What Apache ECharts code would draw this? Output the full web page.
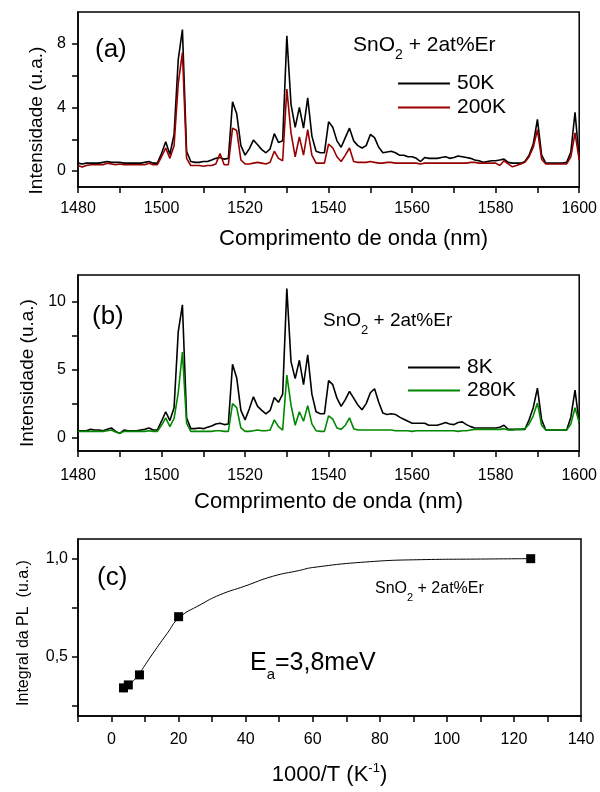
<!DOCTYPE html>
<html><head><meta charset="utf-8">
<script src="https://cdn.jsdelivr.net/npm/echarts@6/dist/echarts.min.js"></script>
<style>html,body{margin:0;padding:0;background:#fff}#c{width:600px;height:792px}</style>
</head><body><div id="c"></div>
<script>
const FONT = '"Liberation Sans", Arial, sans-serif';

const wavelength = [1480,1481,1482,1483,1484,1485,1486,1487,1488,1489,1490,1491,1492,1493,1494,1495,1496,1497,1498,1499,
1500,1501,1502,1503,1504,1505,1506,1507,1508,1509,1510,1511,1512,1513,1514,1515,1516,1517,1518,1519,
1520,1521,1522,1523,1524,1525,1526,1527,1528,1529,1530,1531,1532,1533,1534,1535,1536,1537,1538,1539,
1540,1541,1542,1543,1544,1545,1546,1547,1548,1549,1550,1551,1552,1553,1554,1555,1556,1557,1558,1559,
1560,1561,1562,1563,1564,1565,1566,1567,1568,1569,1570,1571,1572,1573,1574,1575,1576,1577,1578,1579,
1580,1581,1582,1583,1584,1585,1586,1587,1588,1589,1590,1591,1592,1593,1594,1595,1596,1597,1598,1599,1600];

const intensity50K = [0.5,0.45,0.5,0.5,0.5,0.5,0.55,0.6,0.55,0.55,
0.55,0.5,0.5,0.5,0.5,0.5,0.55,0.6,0.5,0.5,
1.1,1.85,1.05,2.3,7.0,8.9,1.25,0.6,0.55,0.55,
0.6,0.6,0.7,0.8,0.85,0.75,0.8,4.35,3.6,1.6,
1.0,1.4,1.95,1.65,1.35,1.15,1.4,2.35,1.8,1.9,
8.5,4.2,2.75,4.0,2.7,4.6,2.2,1.25,1.15,1.15,
3.1,2.75,1.9,1.5,2.1,2.7,1.9,1.6,1.45,1.6,
2.3,2.1,1.5,1.15,1.2,1.25,1.15,1.0,1.0,0.9,
0.9,0.8,0.6,0.85,0.8,0.8,0.8,0.85,0.9,0.8,
0.85,0.95,0.9,0.85,0.8,0.7,0.65,0.55,0.6,0.65,
0.65,0.7,0.75,0.55,0.5,0.5,0.5,0.6,1.0,1.7,
3.25,1.0,0.5,0.5,0.5,0.5,0.5,0.55,1.2,3.7,0.75];

const intensity200K = [0.35,0.25,0.35,0.4,0.4,0.4,0.4,0.5,0.45,0.4,
0.45,0.4,0.4,0.4,0.4,0.4,0.4,0.5,0.4,0.4,
0.9,1.45,0.8,1.6,5.5,7.45,0.8,0.35,0.35,0.35,
0.3,0.35,0.35,0.45,1.1,0.4,0.4,2.7,2.55,0.7,
0.45,0.45,0.5,0.55,0.5,0.45,0.55,1.25,0.8,0.65,
5.15,2.4,0.9,2.15,1.0,2.6,1.0,0.5,0.5,0.5,
1.7,1.45,0.9,0.6,1.0,1.45,0.6,0.55,0.55,0.55,
0.6,0.55,0.5,0.5,0.55,0.55,0.5,0.5,0.5,0.5,
0.5,0.5,0.45,0.5,0.5,0.5,0.5,0.5,0.5,0.5,
0.5,0.5,0.5,0.5,0.55,0.55,0.5,0.5,0.5,0.5,
0.5,0.35,0.65,0.45,0.27,0.35,0.45,0.55,0.9,1.5,
2.6,0.75,0.45,0.45,0.45,0.45,0.45,0.45,0.9,2.4,0.7];

const intensity8K = [0.5,0.5,0.5,0.6,0.55,0.55,0.5,0.6,0.7,0.45,
0.3,0.55,0.5,0.5,0.5,0.55,0.6,0.7,0.55,0.55,
1.2,1.9,1.25,2.2,7.8,9.8,1.45,0.65,0.65,0.7,
0.65,0.75,0.85,1.0,1.05,0.95,1.0,5.4,4.4,2.0,
1.3,2.1,3.0,2.3,2.0,1.75,2.0,2.95,2.6,3.2,
11.0,5.6,4.35,5.7,3.9,6.1,3.2,1.9,1.75,1.75,
4.2,3.9,2.9,2.3,2.8,3.4,2.9,2.4,2.05,2.5,
3.3,3.6,2.6,1.8,1.7,1.75,1.7,1.5,1.35,1.2,
1.05,1.05,1.05,1.05,0.9,0.9,0.9,1.0,1.1,1.0,
0.95,1.1,1.15,0.95,0.8,0.7,0.7,0.7,0.7,0.7,
0.7,0.75,0.9,0.6,0.6,0.6,0.6,0.6,1.3,2.2,
3.65,1.3,0.55,0.55,0.55,0.55,0.55,0.55,1.5,3.5,1.05];

const intensity280K = [0.45,0.45,0.45,0.45,0.45,0.45,0.45,0.5,0.55,0.4,
0.3,0.45,0.45,0.45,0.45,0.45,0.45,0.5,0.45,0.45,
0.9,1.45,0.8,1.4,3.3,6.3,1.05,0.45,0.45,0.45,
0.45,0.45,0.45,0.5,0.5,0.45,0.45,2.5,2.2,0.7,
0.45,0.45,0.5,0.55,0.5,0.5,0.55,1.3,0.8,0.55,
4.6,2.4,0.9,1.9,1.2,2.35,1.0,0.5,0.45,0.45,
1.6,1.35,0.7,0.6,0.9,1.45,0.65,0.55,0.55,0.55,
0.55,0.55,0.55,0.55,0.55,0.55,0.5,0.5,0.5,0.5,
0.45,0.5,0.5,0.5,0.5,0.5,0.5,0.5,0.5,0.5,
0.5,0.45,0.5,0.5,0.55,0.6,0.6,0.6,0.6,0.6,
0.6,0.6,0.65,0.55,0.55,0.6,0.6,0.65,1.0,1.6,
2.55,0.9,0.55,0.55,0.55,0.55,0.55,0.55,1.0,2.2,1.1];

// panel (c)
const invT = [3.57, 5.0, 8.33, 20.0, 125.0];
const plIntegral = [0.343, 0.358, 0.409, 0.705, 1.0];
const fitX = [3.7, 5, 8, 11.6, 16.6, 20.2, 26.4, 32.3, 39.7, 48, 56, 60, 75.7, 92.5, 110, 125];
const fitY = [0.32, 0.35, 0.41, 0.50, 0.62, 0.70, 0.765, 0.816, 0.86, 0.91, 0.94, 0.955, 0.983, 0.995, 0.998, 1.0];

// ticks
const specXTicks = [1480,1490,1500,1510,1520,1530,1540,1550,1560,1570,1580,1590,1600];
const specXLabels = [1480,1500,1520,1540,1560,1580,1600];
const aYTicks = [0,2,4,6,8];
const aYLabels = [0,4,8];
const bYTicks = [0,2.5,5,7.5,10];
const bYLabels = [0,5,10];
const cXTicks = [-10,0,10,20,30,40,50,60,70,80,90,100,110,120,130,140];
const cXLabels = [0,20,40,60,80,100,120,140];
const cYTicks = [0.25,0.5,0.75,1.0];
const cYLabels = [0.5,1.0];

const zip = (xs, ys) => xs.map((x, i) => [x, ys[i]]);
const plain = v => String(v);

function xAxisCfg(gi, min, max, ticks, labels, name, nameGap, nameStyle, margin) {
  return {
    type: 'value', gridIndex: gi, min, max,
    axisLine: { show: true, onZero: false, lineStyle: { color: '#000', width: 1.5 } },
    axisTick: { show: true, length: 6, customValues: ticks, lineStyle: { color: '#000', width: 1.5 } },
    axisLabel: { customValues: labels, color: '#000', fontSize: 16, fontFamily: FONT, margin, formatter: plain },
    splitLine: { show: false },
    name, nameLocation: 'middle', nameGap,
    nameTextStyle: Object.assign({ color: '#000', fontSize: 22, fontFamily: FONT }, nameStyle || {})
  };
}
function yAxisCfg(gi, min, max, ticks, labels, name, nameGap, nameStyle, margin, fmt) {
  return {
    type: 'value', gridIndex: gi, min, max,
    axisLine: { show: true, onZero: false, lineStyle: { color: '#000', width: 1.5 } },
    axisTick: { show: true, length: 6, customValues: ticks, lineStyle: { color: '#000', width: 1.5 } },
    axisLabel: { customValues: labels, color: '#000', fontSize: 16, fontFamily: FONT, margin, formatter: fmt || plain },
    splitLine: { show: false },
    name, nameLocation: 'middle', nameGap,
    nameTextStyle: Object.assign({ color: '#000', fontSize: 19, fontFamily: FONT }, nameStyle || {})
  };
}

const gridStyle = { show: true, borderColor: '#000', borderWidth: 1.5, backgroundColor: 'transparent' };

function snoText(x, y, size, sub) {
  return {
    type: 'text', x, y,
    style: {
      text: '{m|SnO}{s|2}{m| + 2at%Er}',
      align: 'left', verticalAlign: 'middle', fill: '#000',
      rich: {
        m: { fontSize: size, fontFamily: FONT, fill: '#000', lineHeight: size + 13 },
        s: { fontSize: sub, fontFamily: FONT, fill: '#000', lineHeight: sub, verticalAlign: 'bottom' }
      }
    }
  };
}
function plainText(x, y, text, size) {
  return { type: 'text', x, y, style: { text, fontSize: size, fontFamily: FONT, fill: '#000', align: 'left', verticalAlign: 'middle' } };
}

const legendBase = {
  orient: 'vertical', icon: 'rect', itemWidth: 52, itemHeight: 2,
  textStyle: { fontSize: 21, fontFamily: FONT, color: '#000', padding: [0, 0, 0, 2] }
};

const option = {
  animation: false,
  backgroundColor: '#fff',
  grid: [
    Object.assign({ left: 78, top: 12, width: 503, height: 175 }, gridStyle),
    Object.assign({ left: 78, top: 275, width: 503, height: 176 }, gridStyle),
    Object.assign({ left: 78, top: 539, width: 503, height: 177 }, gridStyle)
  ],
  xAxis: [
    xAxisCfg(0, 1480, 1600, specXTicks, specXLabels, 'Comprimento de onda (nm)', 41, { padding: [0, 0, 0, 50] }, 14),
    xAxisCfg(1, 1480, 1600, specXTicks, specXLabels, 'Comprimento de onda (nm)', 40, null, 17),
    xAxisCfg(2, -10, 140, cXTicks, cXLabels, '{m|1000/T (K}{s|-1}{m|)}', 46, {
      rich: {
        m: { fontSize: 22, fontFamily: FONT, color: '#000', lineHeight: 26 },
        s: { fontSize: 13, fontFamily: FONT, color: '#000', lineHeight: 13, verticalAlign: 'top' }
      }
    }, 16)
  ],
  yAxis: [
    yAxisCfg(0, -1, 10, aYTicks, aYLabels, 'Intensidade (u.a.)', 31, { padding: [0, 42, 0, 0] }, 12),
    yAxisCfg(1, -1, 12, bYTicks, bYLabels, 'Intensidade (u.a.)', 39, { padding: [0, 20, 0, 0] }, 12),
    yAxisCfg(2, 0.2, 1.1, cYTicks, cYLabels, 'Integral da PL  (u.a.)', 46, { fontSize: 16, padding: [0, 11, 0, 0] }, 10,
      v => v.toFixed(1).replace('.', ','))
  ],
  legend: [
    Object.assign({ data: ['50K', '200K'], left: 393, top: 68, itemGap: 3 }, legendBase),
    Object.assign({ data: ['8K', '280K'], left: 403, top: 352, itemGap: 2 }, legendBase)
  ],
  graphic: [
    plainText(95, 50, '(a)', 26),
    plainText(92, 317, '(b)', 26),
    plainText(97, 578, '(c)', 26),
    snoText(353, 45, 21, 14),
    snoText(323, 321, 19, 13),
    snoText(375, 589, 16, 11),
    {
      type: 'text', x: 250, y: 663,
      style: {
        text: '{m|E}{s|a}{m|=3,8meV}', align: 'left', verticalAlign: 'middle', fill: '#000',
        rich: {
          m: { fontSize: 25, fontFamily: FONT, fill: '#000', lineHeight: 38 },
          s: { fontSize: 15, fontFamily: FONT, fill: '#000', lineHeight: 15, verticalAlign: 'bottom' }
        }
      }
    }
  ],
  series: [
    { name: '50K', type: 'line', xAxisIndex: 0, yAxisIndex: 0, data: zip(wavelength, intensity50K),
      symbol: 'none', lineStyle: { color: '#000', width: 1.6 }, itemStyle: { color: '#000' } },
    { name: '200K', type: 'line', xAxisIndex: 0, yAxisIndex: 0, data: zip(wavelength, intensity200K),
      symbol: 'none', lineStyle: { color: '#990000', width: 1.6 }, itemStyle: { color: '#990000' } },
    { name: '8K', type: 'line', xAxisIndex: 1, yAxisIndex: 1, data: zip(wavelength, intensity8K),
      symbol: 'none', lineStyle: { color: '#000', width: 1.6 }, itemStyle: { color: '#000' } },
    { name: '280K', type: 'line', xAxisIndex: 1, yAxisIndex: 1, data: zip(wavelength, intensity280K),
      symbol: 'none', lineStyle: { color: '#008800', width: 1.6 }, itemStyle: { color: '#008800' } },
    { name: 'ajuste', type: 'line', xAxisIndex: 2, yAxisIndex: 2, data: zip(fitX, fitY), smooth: true,
      symbol: 'none', lineStyle: { color: '#000', width: 1 }, itemStyle: { color: '#000' } },
    { name: 'PL', type: 'scatter', xAxisIndex: 2, yAxisIndex: 2, data: zip(invT, plIntegral),
      symbol: 'rect', symbolSize: 9, itemStyle: { color: '#000', opacity: 1 } }
  ]
};

const chart = echarts.init(document.getElementById('c'), null, { renderer: 'canvas' });
chart.setOption(option);
</script>
</body></html>
